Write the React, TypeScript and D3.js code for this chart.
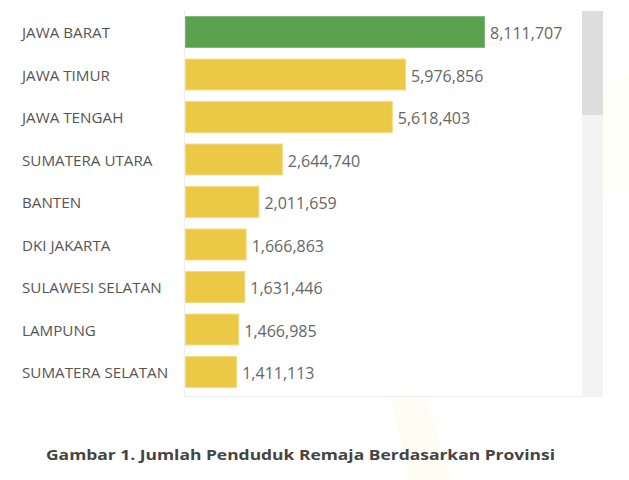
import * as d3 from 'd3';

const provinces = [
  'JAWA BARAT',
  'JAWA TIMUR',
  'JAWA TENGAH',
  'SUMATERA UTARA',
  'BANTEN',
  'DKI JAKARTA',
  'SULAWESI SELATAN',
  'LAMPUNG',
  'SUMATERA SELATAN',
];
const population = [8111707, 5976856, 5618403, 2644740, 2011659, 1666863, 1631446, 1466985, 1411113];
const caption = 'Gambar 1. Jumlah Penduduk Remaja Berdasarkan Provinsi';

export default function App() {
  const width = 629;
  const height = 480;
  const x0 = 185;

  const x = d3.scaleLinear().domain([0, d3.max(population)!]).range([0, 300]);
  const y = d3.scaleBand().domain(provinces).range([10.75, 393.25]).paddingInner(0.25).paddingOuter(0.125);
  const fmt = d3.format(',');

  return (
    <div style={{ position: 'fixed', left: 0, top: 0, background: '#fff' }}>
      <svg width={width} height={height} viewBox={`0 0 ${width} ${height}`} style={{ display: 'block' }}>
        <rect width={width} height={height} fill="#fff" />
        {/* faint watermark */}
        <path d="M390,395 L425,395 L452,480 L410,480 Z" fill="#fffdf3" />
        <path d="M600,85 L629,75 L629,190 L600,195 Z" fill="#fffef7" />

        {/* panel edges */}
        <line x1={x0 - 0.5} x2={x0 - 0.5} y1={10} y2={397} stroke="#eeeeee" />
        <line x1={x0} x2={582} y1={396.5} y2={396.5} stroke="#eeeeee" />

        {/* scrollbar */}
        <rect x={582} y={11} width={21} height={386} fill="#f3f3f3" />
        <rect x={582} y={11} width={21} height={104} fill="#dddddd" />

        {provinces.map((p, i) => {
          const v = population[i];
          const by = y(p)!;
          const cy = by + y.bandwidth() / 2;
          return (
            <g key={p}>
              <text
                x={22}
                y={cy}
                dominantBaseline="central"
                fontFamily="'Open Sans', sans-serif"
                fontSize={15.2}
                fill="#555555"
              >
                {p}
              </text>
              <rect
                x={x0 + 0.5}
                y={by + 0.5}
                width={x(v) - 1}
                height={y.bandwidth() - 1}
                fill={i === 0 ? '#5aa24e' : '#ebc946'}
                stroke={i === 0 ? '#7db873' : '#f3da7c'}
                strokeWidth={1}
              />
              <text
                x={x0 + x(v) + 5}
                y={cy + 1}
                dominantBaseline="central"
                fontFamily="'Open Sans', sans-serif"
                fontSize={16}
                fill="#666666"
              >
                {fmt(v)}
              </text>
            </g>
          );
        })}

        <text
          x={46}
          y={454}
          dominantBaseline="central"
          fontFamily="'Open Sans', sans-serif"
          fontWeight={700}
          fontSize={15}
          fill="#444444"
          textLength={509}
          lengthAdjust="spacingAndGlyphs"
        >
          {caption}
        </text>
      </svg>
    </div>
  );
}
